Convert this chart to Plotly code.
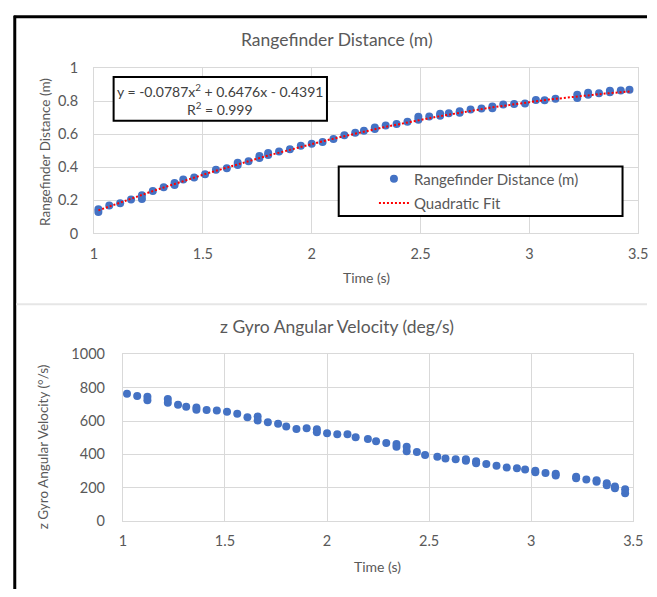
import numpy as np
import plotly.graph_objects as go

# ---------------- data ----------------
time_r = [1.02, 1.02, 1.07, 1.12, 1.17, 1.22, 1.22, 1.27, 1.32, 1.37, 1.37, 1.41, 1.46, 1.51, 1.56, 1.61,
          1.66, 1.66, 1.71, 1.76, 1.76, 1.80, 1.80, 1.85, 1.90, 1.95, 2.00, 2.05, 2.10, 2.15, 2.20, 2.24,
          2.29, 2.29, 2.34, 2.39, 2.44, 2.49, 2.49, 2.54, 2.59, 2.59, 2.63, 2.68, 2.68, 2.73, 2.78, 2.83,
          2.83, 2.88, 2.93, 2.98, 3.03, 3.07, 3.12, 3.22, 3.22, 3.27, 3.27, 3.32, 3.37, 3.37, 3.42, 3.46]
distance = [0.147, 0.130, 0.169, 0.182, 0.206, 0.231, 0.208, 0.257, 0.280, 0.306, 0.293, 0.327, 0.339, 0.359,
            0.386, 0.394, 0.428, 0.415, 0.437, 0.468, 0.456, 0.487, 0.475, 0.496, 0.510, 0.531, 0.543, 0.553,
            0.571, 0.594, 0.610, 0.622, 0.642, 0.632, 0.653, 0.663, 0.676, 0.706, 0.688, 0.708, 0.725, 0.713,
            0.728, 0.740, 0.730, 0.751, 0.757, 0.768, 0.758, 0.781, 0.784, 0.786, 0.808, 0.806, 0.816, 0.840,
            0.820, 0.851, 0.840, 0.849, 0.864, 0.854, 0.865, 0.870]

# quadratic trendline coefficients shown in the chart (a*x^2 + b*x + c)
fit_coef = [-0.0787, 0.6476, -0.4391]
fit_range = [1.02, 3.47]

time_g = [1.02, 1.07, 1.12, 1.12, 1.22, 1.22, 1.27, 1.31, 1.36, 1.36, 1.41, 1.46, 1.51, 1.56, 1.61, 1.66,
          1.66, 1.71, 1.76, 1.80, 1.85, 1.90, 1.95, 1.95, 2.00, 2.05, 2.10, 2.14, 2.20, 2.24, 2.29, 2.34,
          2.34, 2.39, 2.39, 2.44, 2.48, 2.54, 2.58, 2.63, 2.68, 2.68, 2.73, 2.73, 2.78, 2.83, 2.88, 2.93,
          2.97, 3.02, 3.02, 3.07, 3.12, 3.12, 3.22, 3.22, 3.27, 3.32, 3.32, 3.37, 3.37, 3.41, 3.41, 3.46, 3.46]
gyro = [764, 750, 745, 725, 732, 710, 698, 686, 681, 668, 666, 663, 655, 643, 622, 627, 603, 593, 583, 567,
        552, 556, 550, 532, 527, 521, 521, 503, 492, 478, 468, 462, 446, 445, 418, 414, 396, 385, 375, 371,
        371, 361, 358, 347, 342, 332, 321, 317, 309, 302, 293, 288, 284, 273, 266, 256, 249, 244, 235, 227,
        214, 207, 196, 190, 167]

x_ticks = [1, 1.5, 2, 2.5, 3, 3.5]
x_ticktext = ["1", "1.5", "2", "2.5", "3", "3.5"]
y1_ticks = [0, 0.2, 0.4, 0.6, 0.8, 1]
y1_ticktext = ["0", "0.2", "0.4", "0.6", "0.8", "1"]
y2_ticks = [0, 200, 400, 600, 800, 1000]
y2_ticktext = ["0", "200", "400", "600", "800", "1000"]

# ---------------- layout helpers ----------------
W, H = 657, 597
def px(x):
    return x / W
def py(y):
    return 1 - y / H

FONT = "Lato"
GRAY = "#595959"
BLUE = "#4472C4"
GRID = "#d9d9d9"

fit_x = np.linspace(fit_range[0], fit_range[1], 200)
fit_y = np.polyval(fit_coef, fit_x)

fig = go.Figure()
fig.add_trace(go.Scatter(x=time_r, y=distance, mode="markers", name="Rangefinder Distance (m)",
                         marker=dict(color=BLUE, size=8), xaxis="x", yaxis="y", legend="legend"))
fig.add_trace(go.Scatter(x=fit_x, y=fit_y, mode="lines", name="Quadratic Fit",
                         line=dict(color="#ff0000", width=2, dash="2px,2px"),
                         xaxis="x", yaxis="y", legend="legend2"))
fig.add_trace(go.Scatter(x=time_g, y=gyro, mode="markers", name="z Gyro",
                         marker=dict(color=BLUE, size=8), xaxis="x2", yaxis="y2", showlegend=False))

axis_common = dict(showgrid=True, gridcolor=GRID, gridwidth=1, zeroline=False,
                   showline=True, mirror=True, linecolor=GRID, linewidth=1,
                   ticks="", tickfont=dict(family=FONT, size=14.5, color=GRAY),
                   fixedrange=True)

LEG_FONT = dict(family=FONT, size=15, color=GRAY)

fig.update_layout(
    width=W, height=H,
    margin=dict(l=0, r=0, t=0, b=0),
    paper_bgcolor="white", plot_bgcolor="white",
    font=dict(family=FONT, color=GRAY),
    xaxis=dict(domain=[px(92), px(648)], range=[1, 3.5], tickvals=x_ticks, ticktext=x_ticktext,
               anchor="y", ticklabelstandoff=7, **axis_common),
    yaxis=dict(domain=[py(231), py(61)], range=[0, 1], tickvals=y1_ticks, ticktext=y1_ticktext,
               anchor="x", ticklabelstandoff=12, **axis_common),
    xaxis2=dict(domain=[px(121.5), px(643)], range=[1, 3.5], tickvals=x_ticks, ticktext=x_ticktext,
                anchor="y2", ticklabelstandoff=7, **axis_common),
    yaxis2=dict(domain=[py(527), py(355.5)], range=[0, 1000], tickvals=y2_ticks, ticktext=y2_ticktext,
                anchor="x2", ticklabelstandoff=14, **axis_common),
    legend=dict(x=px(378), y=py(175), xanchor="left", yanchor="middle", bgcolor="rgba(0,0,0,0)",
                font=LEG_FONT, borderwidth=0),
    legend2=dict(x=px(378), y=py(200), xanchor="left", yanchor="middle", bgcolor="rgba(0,0,0,0)",
                 font=LEG_FONT, borderwidth=0),
    showlegend=True,
)

shapes = [
    # outer black frame (top and left)
    dict(type="line", xref="paper", yref="paper", x0=px(10), x1=px(657), y0=py(8), y1=py(8),
         line=dict(color="black", width=3)),
    dict(type="line", xref="paper", yref="paper", x0=px(11), x1=px(11), y0=py(7), y1=py(597),
         line=dict(color="black", width=3)),
    # separator between the two charts
    dict(type="line", xref="paper", yref="paper", x0=px(12.5), x1=px(657), y0=py(304), y1=py(304),
         line=dict(color="#e6e6e6", width=2)),
    # equation box
    dict(type="rect", xref="paper", yref="paper", x0=px(112), x1=px(330), y0=py(115), y1=py(70),
         line=dict(color="black", width=2), fillcolor="white", layer="above"),
    # legend box
    dict(type="rect", xref="paper", yref="paper", x0=px(342), x1=px(632), y0=py(213), y1=py(162),
         line=dict(color="black", width=2), fillcolor="white", layer="above"),
]
fig.update_layout(shapes=shapes)

def ann(text, x, y, size, color=GRAY, angle=0):
    return dict(text=text, x=px(x), y=py(y), xref="paper", yref="paper", showarrow=False,
                xanchor="center", yanchor="middle", textangle=angle,
                font=dict(family=FONT, size=size, color=color))

annotations = [
    ann("Rangefinder Distance (m)", 340, 31, 17.5),
    ann("Time (s)", 370, 276, 14),
    ann("Rangefinder Distance (m)", 42, 147, 13.5, angle=-90),
    ann("z Gyro Angular Velocity (deg/s)", 340, 327, 17.5),
    ann("Time (s)", 382, 574, 14),
    ann("z Gyro Angular Velocity (\u00b0/s)", 40, 451, 13.5, angle=-90),
    ann("y = -0.0787x<sup>2</sup> + 0.6476x - 0.4391", 221, 84, 14, color="#404040"),
    ann("R<sup>2</sup> = 0.999", 221, 102, 14, color="#404040"),
]
fig.update_layout(annotations=annotations)

fig.write_html(
    "out.html",
    config={"displayModeBar": False},
    post_script="document.body.style.margin='0';document.body.style.overflow='hidden';",
)
